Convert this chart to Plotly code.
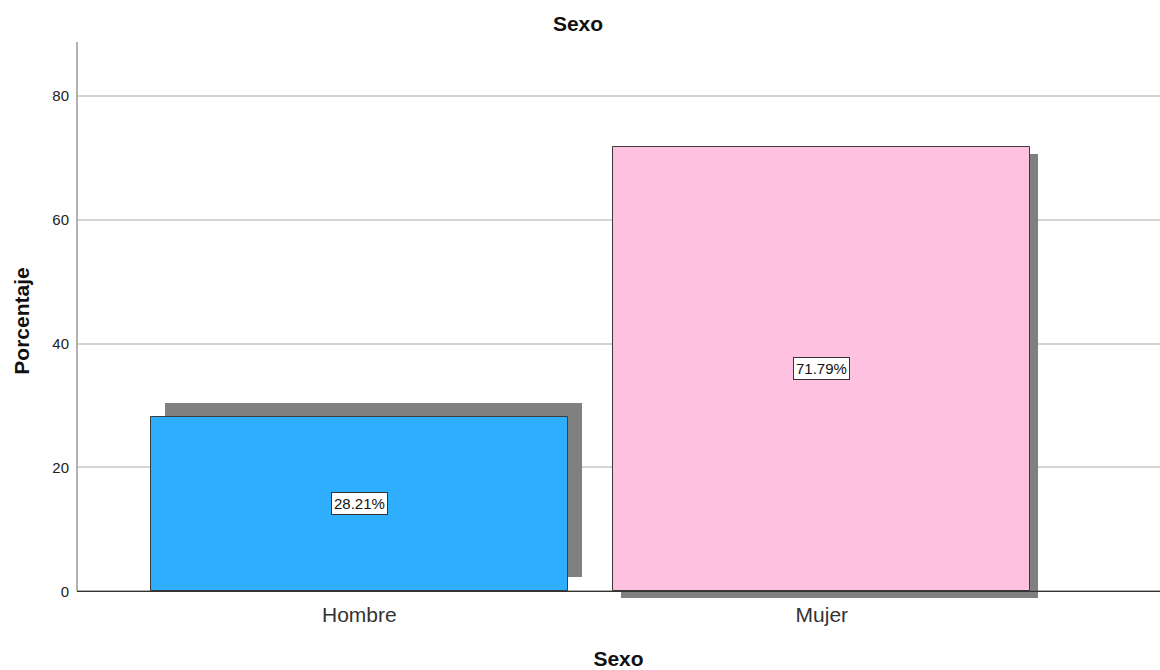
import plotly.graph_objects as go

# ---- data ----
categories = ["Hombre", "Mujer"]
percentages = [28.21, 71.79]
labels = ["28.21%", "71.79%"]
y_ticks = [0, 20, 40, 60, 80]

# ---- style ----
bar_colors = ["#30AEFE", "#FEC1E0"]
shadow_dx = [0.031, 0.016]     # shadow shift in category units
shadow_dy = [2.25, -1.15]      # shadow shift in value units
bar_width = 0.901
y_range = [-1.40, 88.67]
x_range = [-0.6104, 1.7312]
xs = list(range(len(categories)))

W, H = 1160, 670
FONT = "Arial, Liberation Sans, sans-serif"

fig = go.Figure()

# shadows
fig.add_trace(go.Bar(
    x=[x + d for x, d in zip(xs, shadow_dx)],
    y=percentages,
    base=shadow_dy,
    width=bar_width,
    marker=dict(color="#808080", line=dict(width=0)),
    hoverinfo="skip",
    showlegend=False,
))
# bars
fig.add_trace(go.Bar(
    x=xs,
    y=percentages,
    width=bar_width,
    marker=dict(color=bar_colors, line=dict(color="#3a3a3a", width=1)),
    showlegend=False,
))

# data labels
for x, v, t in zip(xs, percentages, labels):
    fig.add_annotation(
        x=x, y=v / 2, xref="x", yref="y", text=t, showarrow=False,
        font=dict(family=FONT, size=15, color="#111"),
        bgcolor="white", bordercolor="#333", borderwidth=1, borderpad=2,
    )

# axis lines
fig.add_shape(type="line", xref="paper", yref="y", x0=0, x1=0,
              y0=0, y1=y_range[1], line=dict(color="#999999", width=1.5))
fig.add_shape(type="line", xref="paper", yref="y", x0=0, x1=1,
              y0=0, y1=0, line=dict(color="#333333", width=1.2))

fig.update_layout(
    width=W, height=H,
    margin=dict(l=77, r=0, t=42, b=70),
    plot_bgcolor="white", paper_bgcolor="white",
    bargap=0, barmode="overlay",
    title=dict(text="<b>Sexo</b>", x=578 / W, xref="container", xanchor="center",
               y=1 - 24 / H, yref="container", yanchor="middle",
               font=dict(family=FONT, size=21, color="#111")),
    font=dict(family=FONT),
    xaxis=dict(
        range=x_range, tickmode="array", tickvals=xs, ticktext=categories,
        showgrid=False, zeroline=False, showline=False, ticks="",
        tickfont=dict(size=21, color="#333"), ticklabelstandoff=0,
        title=dict(text="<b>Sexo</b>", standoff=26,
                   font=dict(size=21, color="#111")),
    ),
    yaxis=dict(
        range=y_range, tickmode="array", tickvals=y_ticks,
        showgrid=True, gridcolor="#d4d4d4", gridwidth=1.5,
        zeroline=False, showline=False, ticks="",
        tickfont=dict(size=15, color="#222"), ticklabelstandoff=7,
        title=dict(text="<b>Porcentaje</b>", standoff=16,
                   font=dict(size=21, color="#111")),
    ),
)

fig.write_html("out.html", config={"displayModeBar": False},
               post_script="document.body.style.margin='0px';document.body.style.overflow='hidden';")
